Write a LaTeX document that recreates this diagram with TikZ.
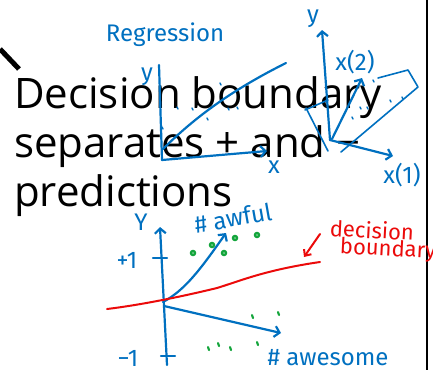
\documentclass[tikz,border=0pt]{standalone}
\usepackage{fontspec}
\setmainfont{Open Sans}
\newfontfamily\handfont{Fira Sans}
\usetikzlibrary{arrows.meta}
\definecolor{inkblue}{RGB}{0,112,192}
\definecolor{inkred}{RGB}{235,10,10}
\definecolor{inkgreen}{RGB}{20,165,60}
\tikzset{
  ink/.style={inkblue, line width=2.2pt, line cap=round, line join=round},
  redink/.style={inkred, line width=2pt, line cap=round, line join=round},
  barb/.style={-{Straight Barb[length=5pt,width=11pt]}},
  slidetext/.style={inner sep=0pt, font=\fontsize{42}{49}\selectfont},
  hand/.style={inner sep=0pt, text=inkblue, font=\handfont\fontsize{24}{26}\selectfont},
  redhand/.style={inner sep=0pt, text=inkred, font=\handfont\fontsize{22}{24}\selectfont},
  speck/.style={inkblue, line width=1.4pt, line cap=round},
  seed/.style={draw=inkgreen, line width=2.4pt, inner sep=0pt, minimum size=4pt, circle}
}
\begin{document}
\begin{tikzpicture}[x=1pt,y=-1pt]
\useasboundingbox (0,0) rectangle (433,370);
% slide edge and pen mark
\draw[line width=2pt] (427,0) -- (427,370);
\draw[line width=5pt] (0,49) -- (19,69);
% slide text
\node[slidetext, anchor=base west] (line1) at (14,108) {Decision boundary};
\node[slidetext, anchor=base west] (line2) at (14,157) {separates + and −};
\node[slidetext, anchor=base west] (line3) at (14,206) {predictions};
% regression sketch
\node[hand] (regtitle) at (165,35) {Regression};
\coordinate (o1) at (162,160);
\draw[ink] (o1) -- (159,65);
\draw[ink,barb] (o1) -- (267,151);
\node[hand] (ylab1) at (147,77) {y};
\node[hand] (xlab1) at (274,167) {x};
\draw[ink] (163,149) .. controls (200,112) and (240,86) .. (286,63);
\foreach \px/\py in {177/107, 192/108, 207/118, 220/83, 228/108, 237/107, 162/127}
  \draw[speck] (\px,\py) -- ++(1,2);
% feature space sketch
\coordinate (o2) at (330,140);
\draw[ink,barb] (o2) -- (322,30);
\draw[ink,barb] (o2) -- (393,156);
\draw[ink,barb] (332,139) -- (362,78);
\node[hand] (ylab2) at (313,19) {y};
\node[hand] (x2lab) at (355,62) {x(2)};
\node[hand] (x1lab) at (402,175) {x(1)};
\draw[ink, line width=1.6pt] (305,110) -- (328,100);
\draw[ink, line width=1.6pt] (378,78) -- (408,70) -- (418,87) -- (341,152);
\draw[ink, line width=1.6pt] (306,108) -- (328,151);
\foreach \px/\py in {360/107, 390/100, 402/97, 373/80, 352/117, 367/107}
  \draw[speck] (\px,\py) -- ++(1,2);
% sentiment sketch
\coordinate (o3) at (163,302);
\draw[ink,barb] (167,365) -- (160,227);
\node[hand] (ylab3) at (141,222) {Y};
\draw[ink] (153,258) -- (167,258);
\draw[ink] (161,356) -- (175,356);
\node[hand] (plusone) at (127,260) {+1};
\node[hand] (minusone) at (128,358) {−1};
\draw[ink,barb] (o3) .. controls (185,290) and (200,270) .. (226,233);
\draw[ink,barb] (164,306) -- (281,333);
\node[hand, rotate=10] (awful) at (233,218) {\# awful};
\node[hand] (awesome) at (328,358) {\# awesome};
\foreach \px/\py in {193/253, 212/245, 224/253, 235/238, 257/235}
  \node[seed] at (\px,\py) {};
\foreach \px/\py in {208/347, 218/343, 230/347, 257/342, 252/315, 278/312}
  \draw[inkgreen, line width=2.2pt, line cap=round] (\px,\py) -- ++(1,3);
% decision boundary
\draw[redink] (107,309) .. controls (140,305) and (180,297) .. (217,288)
  .. controls (240,281) and (265,270) .. (320,262);
\draw[redink, -{Straight Barb[length=5pt,width=9pt]}] (320,234) -- (304,257);
\node[redhand, rotate=-3] (decision) at (372,230) {decision};
\node[redhand, rotate=-3] (boundary) at (388,250) {boundary};
\end{tikzpicture}
\end{document}
